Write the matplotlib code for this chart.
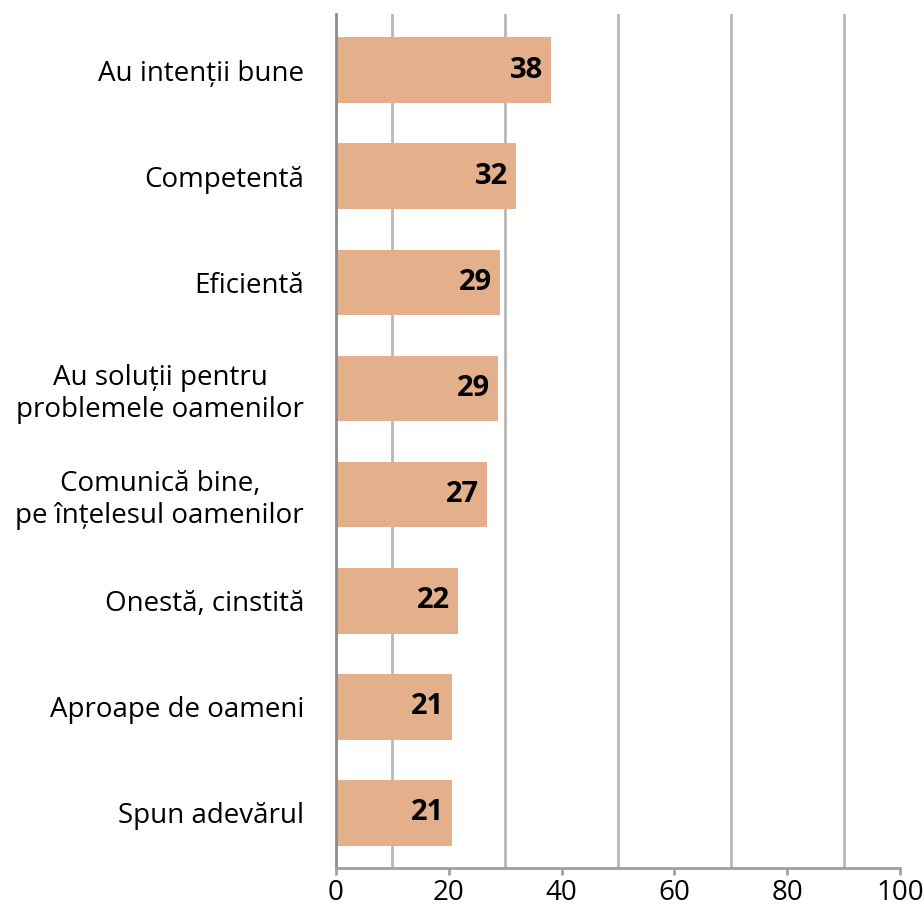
import matplotlib
matplotlib.use('Agg')
import matplotlib.pyplot as plt
import numpy as np

plt.rcParams['font.family'] = ['Open Sans', 'DejaVu Sans']

# Date
categorii = ['Au intenții bune', 'Competentă', 'Eficientă',
             'Au soluții pentru\nproblemele oamenilor',
             'Comunică bine,\npe înțelesul oamenilor',
             'Onestă, cinstită', 'Aproape de oameni', 'Spun adevărul']
valori = [38.1, 31.9, 29.1, 28.7, 26.8, 21.6, 20.6, 20.6]
etichete = ['38', '32', '29', '29', '27', '22', '21', '21']
ticks_x = [0, 20, 40, 60, 80, 100]
grila_x = [10, 30, 50, 70, 90]

fig = plt.figure(figsize=(9.24, 9.10), dpi=100)
ax = fig.add_axes([0.3636, 0.0462, 0.6104, 0.9384])

y = np.arange(len(categorii))
for g in grila_x:
    ax.axvline(g, color='#b8b8b8', lw=2, zorder=0)
ax.barh(y, valori, height=0.62, color='#E3B08B', zorder=2)

for yi, v, t in zip(y, valori, etichete):
    ax.text(v - 1.4, yi, t, ha='right', va='center', fontsize=21,
            fontweight='bold', color='black', zorder=3)

ax.set_xlim(0, 100)
ax.set_ylim(7.52, -0.53)
ax.set_yticks(y)
ax.set_yticklabels(categorii, fontsize=20, multialignment='center')
ax.set_xticks(ticks_x)
ax.set_xticklabels([str(t) for t in ticks_x], fontsize=20)
ax.tick_params(axis='y', length=0, pad=23)
ax.tick_params(axis='x', length=5, width=2, color='#a0a0a0', pad=3)

for s in ['top', 'right']:
    ax.spines[s].set_visible(False)
ax.spines['left'].set_color('#8c8c8c')
ax.spines['left'].set_linewidth(2)
ax.spines['bottom'].set_color('#a0a0a0')
ax.spines['bottom'].set_linewidth(2)

fig.savefig('out.png', dpi=100)
